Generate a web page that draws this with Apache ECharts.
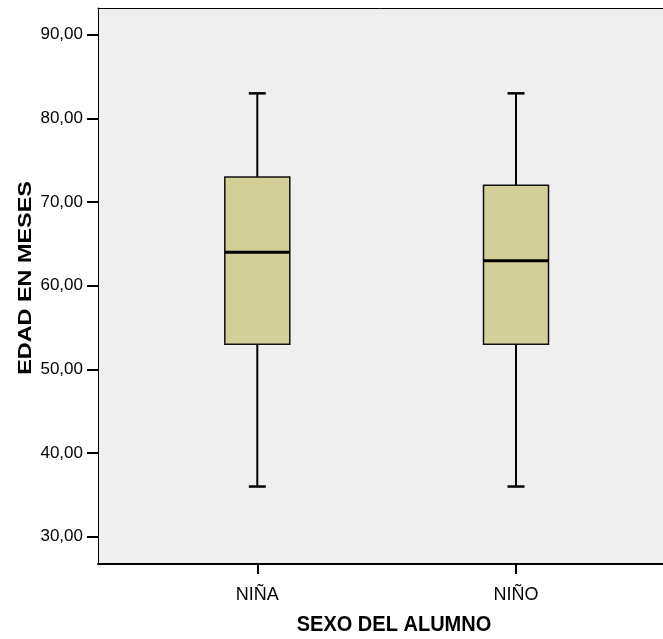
<!DOCTYPE html>
<html>
<head>
<meta charset="utf-8">
<title>Edad en meses por sexo del alumno</title>
<script src="https://cdn.jsdelivr.net/npm/echarts@6/dist/echarts.min.js"></script>
<style>
  html, body { margin: 0; padding: 0; background: #ffffff; }
  #chart { width: 663px; height: 639px; }
</style>
</head>
<body>
<div id="chart"></div>
<script>
// Categories and five-number summaries (months)
const categories = ['NIÑA', 'NIÑO'];
const whiskerLow = [36, 36];
const q1 = [53, 53];
const median = [64, 63];
const q3 = [73, 72];
const whiskerHigh = [83, 83];
const yTicks = [30, 40, 50, 60, 70, 80, 90];

const boxData = categories.map((c, i) => [i + 1, whiskerLow[i], q1[i], median[i], q3[i], whiskerHigh[i]]);

const BOX_W = 65;
const CAP_W = 17;
const FONT = 'Liberation Sans, Arial, sans-serif';
const X_MIN = 0.3842, X_MAX = 2.5682;

function renderBox(params, api) {
  const x = api.value(0);
  const pLow = api.coord([x, api.value(1)]);
  const pQ1 = api.coord([x, api.value(2)]);
  const pMed = api.coord([x, api.value(3)]);
  const pQ3 = api.coord([x, api.value(4)]);
  const pHigh = api.coord([x, api.value(5)]);
  const cx = pMed[0];
  const lineStyle = { stroke: '#000', lineWidth: 2 };
  return {
    type: 'group',
    children: [
      { type: 'line', shape: { x1: cx, y1: pQ3[1], x2: cx, y2: pHigh[1] }, style: lineStyle },
      { type: 'line', shape: { x1: cx, y1: pQ1[1], x2: cx, y2: pLow[1] }, style: lineStyle },
      { type: 'line', shape: { x1: cx - CAP_W / 2, y1: pHigh[1], x2: cx + CAP_W / 2, y2: pHigh[1] }, style: { stroke: '#000', lineWidth: 2.5 } },
      { type: 'line', shape: { x1: cx - CAP_W / 2, y1: pLow[1], x2: cx + CAP_W / 2, y2: pLow[1] }, style: { stroke: '#000', lineWidth: 2.5 } },
      {
        type: 'rect',
        shape: { x: cx - BOX_W / 2, y: pQ3[1], width: BOX_W, height: pQ1[1] - pQ3[1] },
        style: { fill: '#d3cf98', stroke: '#111', lineWidth: 1.5 }
      },
      { type: 'line', shape: { x1: cx - BOX_W / 2, y1: pMed[1], x2: cx + BOX_W / 2, y2: pMed[1] }, style: { stroke: '#000', lineWidth: 3 } }
    ]
  };
}

const chart = echarts.init(document.getElementById('chart'), null, { renderer: 'canvas' });

chart.setOption({
  backgroundColor: '#ffffff',
  animation: false,
  grid: {
    left: 98, top: 8, right: 0, bottom: 75,
    show: true, backgroundColor: '#efefef', borderWidth: 0
  },
  xAxis: [{
    type: 'value',
    position: 'bottom',
    min: X_MIN, max: X_MAX,
    splitLine: { show: false },
    axisLine: { show: true, onZero: false, lineStyle: { color: '#000', width: 2 } },
    axisTick: { show: true, customValues: [1, 2], length: 10, lineStyle: { color: '#000', width: 2 } },
    axisLabel: {
      customValues: [1, 2],
      formatter: v => categories[Math.round(v) - 1] || '',
      margin: 22, color: '#000', fontSize: 18, fontFamily: FONT
    }
  }, {
    // top frame line
    type: 'value',
    position: 'top',
    min: X_MIN, max: X_MAX,
    splitLine: { show: false },
    axisLine: { show: true, onZero: false, lineStyle: { color: '#000', width: 1 } },
    axisTick: { show: false },
    axisLabel: { show: false }
  }],
  yAxis: {
    type: 'value',
    min: 26.74, max: 93.2,
    splitLine: { show: false },
    axisLine: { show: true, onZero: false, lineStyle: { color: '#000', width: 1 } },
    axisTick: { show: true, customValues: yTicks, length: 11, lineStyle: { color: '#000', width: 2 } },
    axisLabel: {
      customValues: yTicks,
      formatter: v => v.toFixed(2).replace('.', ','),
      margin: 15, color: '#000', fontSize: 17, fontFamily: FONT
    }
  },
  graphic: [
    {
      type: 'text', x: 394, y: 625, scaleX: 0.91,
      style: {
        text: 'SEXO DEL ALUMNO', fill: '#000',
        font: 'bold 22px "Liberation Sans", Arial, sans-serif',
        textAlign: 'center', textVerticalAlign: 'middle'
      }
    },
    {
      type: 'text', x: 26.5, y: 278, rotation: Math.PI / 2, scaleX: 1.3,
      style: {
        text: 'EDAD EN MESES', fill: '#000',
        font: 'bold 18px "Liberation Sans", Arial, sans-serif',
        textAlign: 'center', textVerticalAlign: 'middle'
      }
    }
  ],
  series: [{
    type: 'custom',
    xAxisIndex: 0,
    renderItem: renderBox,
    encode: { x: 0, y: [1, 2, 3, 4, 5] },
    data: boxData,
    clip: false
  }]
});
</script>
</body>
</html>
